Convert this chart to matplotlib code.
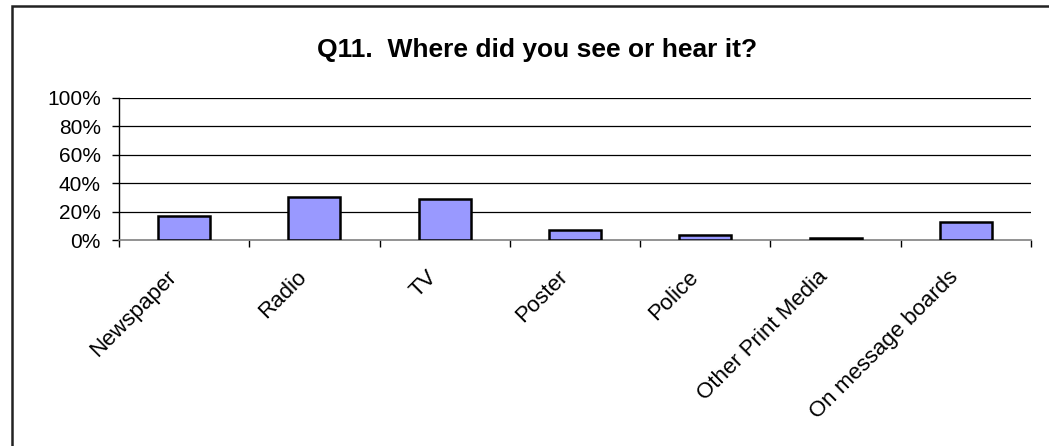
import matplotlib
matplotlib.use("Agg")
import matplotlib.pyplot as plt
from matplotlib.patches import Rectangle
from matplotlib.ticker import FixedLocator, PercentFormatter
from matplotlib.transforms import ScaledTranslation
import numpy as np

plt.rcParams['font.family'] = ['Liberation Sans', 'DejaVu Sans']

# data
categories = ['Newspaper', 'Radio', 'TV', 'Poster', 'Police',
              'Other Print Media', 'On message boards']
values = [17, 30, 29, 7, 3.5, 1.5, 13]
y_ticks = [0, 20, 40, 60, 80, 100]
title = 'Q11.  Where did you see or hear it?'

fig = plt.figure(figsize=(10.49, 4.46), dpi=100)
ax = fig.add_axes([119 / 1049, 1 - 240 / 446, 912 / 1049, 142.3 / 446])

x = np.arange(len(categories))
ax.bar(x, values, width=0.4, color='#9999FF', edgecolor='black',
       linewidth=1.8, zorder=3)

ax.set_xlim(-0.5, len(categories) - 0.5)
ax.set_ylim(0, 100)
ax.yaxis.set_major_locator(FixedLocator(y_ticks))
ax.yaxis.set_major_formatter(PercentFormatter(decimals=0))
for t in y_ticks[1:]:
    ax.axhline(t, color='black', lw=0.9, zorder=1)

# category labels, drawn by hand so they can sit left of the centre
ax.set_xticks(x)
ax.set_xticklabels([])
shift = ScaledTranslation(-0.18, -0.264, fig.dpi_scale_trans)
for xi, name in zip(x, categories):
    ax.text(xi, 0, name, transform=ax.get_xaxis_transform() + shift,
            rotation=45, ha='right', va='top', rotation_mode='anchor',
            fontsize=16)
ax.set_xticks(np.arange(len(categories) + 1) - 0.5, minor=True)
ax.tick_params(axis='x', which='major', length=0)
ax.tick_params(axis='x', which='minor', length=5, direction='out',
               color='black', width=1)
ax.tick_params(axis='y', length=5, direction='out', labelsize=15,
               pad=8, width=1)

for side in ['top', 'right']:
    ax.spines[side].set_visible(False)
ax.spines['left'].set_color('black')
ax.spines['left'].set_linewidth(1)
ax.spines['bottom'].set_color('#808080')
ax.spines['bottom'].set_linewidth(1.2)

fig.text(537 / 1049, 1 - 50 / 446, title, ha='center', va='center',
         fontsize=19, fontweight='bold')

# chart area border
fig.patches.append(Rectangle((12 / 1049, -0.01), 1.02, 1 - 6 / 446 + 0.01,
                             transform=fig.transFigure, fill=False,
                             edgecolor='#222222', linewidth=1.8))

fig.savefig('out.png', dpi=100)
